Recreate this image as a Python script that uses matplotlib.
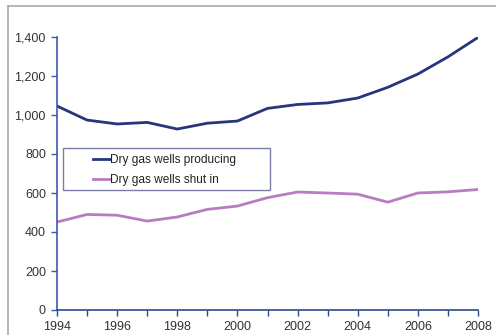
import matplotlib
matplotlib.use("Agg")
import matplotlib.pyplot as plt
from matplotlib.patches import Rectangle
from matplotlib.lines import Line2D
from matplotlib.ticker import FuncFormatter, MultipleLocator

plt.rcParams['font.family'] = ['Liberation Sans', 'DejaVu Sans']

years = list(range(1994, 2009))
producing = [1046, 974, 954, 962, 928, 958, 969, 1034, 1054, 1062, 1087, 1142, 1210, 1298, 1398]
shut_in = [451, 490, 486, 456, 477, 516, 533, 576, 605, 600, 594, 553, 600, 606, 618]

W, H = 496, 335
fig = plt.figure(figsize=(W / 100, H / 100), dpi=100)
# outer frame (only top and left edges visible in the picture)
fig.lines.append(Line2D([8 / W, 1], [1 - 6 / H, 1 - 6 / H], transform=fig.transFigure,
                        color='#aaaaaa', lw=1.2))
fig.lines.append(Line2D([8 / W, 8 / W], [0, 1 - 6 / H], transform=fig.transFigure,
                        color='#aaaaaa', lw=1.2))

ax = fig.add_axes([57 / W, 25 / H, 421 / W, 273 / H])

ax.plot(years, producing, color='#27357a', lw=2.0, label='Dry gas wells producing')
ax.plot(years, shut_in, color='#b87cc0', lw=2.0, label='Dry gas wells shut in')

ax.set_xlim(1994, 2008)
ax.set_ylim(0, 1400)
ax.xaxis.set_major_locator(MultipleLocator(2))
ax.xaxis.set_minor_locator(MultipleLocator(1))
ax.yaxis.set_major_locator(MultipleLocator(200))
ax.yaxis.set_major_formatter(FuncFormatter(lambda v, p: f'{int(v):,}'))

for s in ['top', 'right']:
    ax.spines[s].set_visible(False)
ax.spines['left'].set_color('#3a5bb0')
ax.spines['bottom'].set_color('#2a4a90')
ax.spines['left'].set_linewidth(1.2)
ax.spines['bottom'].set_linewidth(1.2)
ax.tick_params(axis='y', which='major', length=4, width=1, color='#3a5bb0', direction='out',
               labelsize=9, labelcolor='#333333', pad=4)
ax.tick_params(axis='x', which='both', length=4, width=1, color='#2a4a90', direction='out',
               labelsize=9, labelcolor='#333333', pad=4)


def px(x, y):
    # figure pixel (from top-left) -> axes fraction
    return (x - 57) / 421, (310 - y) / 273


# legend box
bx0, by0 = px(63, 190)
bx1, by1 = px(270, 148)
ax.add_patch(Rectangle((bx0, by0), bx1 - bx0, by1 - by0, transform=ax.transAxes,
                       fill=False, edgecolor='#7a7fa8', lw=1.0, clip_on=False, zorder=4))

leg = ax.legend(loc='upper left', bbox_to_anchor=px(93, 154),
                fontsize=8.6, frameon=False, handlelength=1.4, handletextpad=0.05,
                borderpad=0, labelspacing=0.7, borderaxespad=0)
for t in leg.get_texts():
    t.set_color('#222222')

fig.savefig('out.png', dpi=100)
